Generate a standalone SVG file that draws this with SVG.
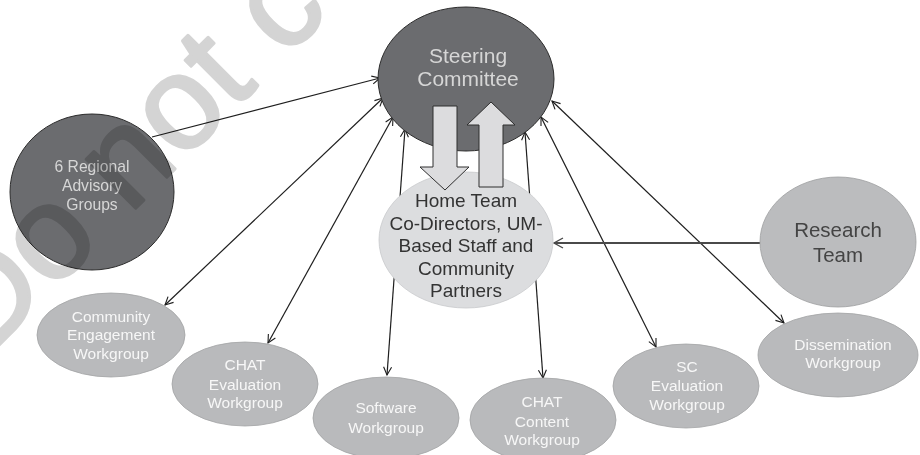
<svg xmlns="http://www.w3.org/2000/svg" width="920" height="455" viewBox="0 0 920 455">
  <style>
    text { font-family: "Liberation Sans", Arial, Helvetica, sans-serif; text-anchor: middle; }
    .dark { fill: #6b6c6f; stroke: #2b2b2b; stroke-width: 1; }
    .dark-txt { fill: #d6d6d6; }
    .home { fill: #dcdddf; stroke: #c8c9cb; stroke-width: 0.8; }
    .home-txt { fill: #333333; font-size: 19px; }
    .research { fill: #bbbcbe; stroke: #9d9ea0; stroke-width: 0.8; }
    .research-txt { fill: #444444; font-size: 20.5px; }
    .wg { fill: #b9babc; stroke: #a2a3a5; stroke-width: 0.8; }
    .wg-txt { fill: #f7f7f7; font-size: 15.5px; }
    .link { fill: none; stroke: #1e1e1e; stroke-width: 1.2; }
    .link-gray { fill: none; stroke: #4a4a4a; stroke-width: 1.8; }
    .block { fill: #dcdcde; stroke: #2e2e2e; stroke-width: 1; }
    .wm { fill: #d4d4d4; stroke: #d4d4d4; stroke-width: 3; stroke-linejoin: round; font-size: 132px; text-anchor: start; mix-blend-mode: multiply; }
  </style>
  <defs>
    <marker id="ah" markerUnits="userSpaceOnUse" markerWidth="10" markerHeight="10" refX="9" refY="5" orient="auto-start-reverse">
      <path d="M1,1 L9,5 L1,9" fill="none" stroke="#1e1e1e" stroke-width="1.1"/>
    </marker>
    <marker id="ah-gray" markerUnits="userSpaceOnUse" markerWidth="12" markerHeight="12" refX="10" refY="6" orient="auto">
      <path d="M1,1 L10,6 L1,11" fill="none" stroke="#4a4a4a" stroke-width="1.4"/>
    </marker>
  </defs>

  <!-- connectors -->
  <g id="connectors">
    <line class="link" x1="152" y1="137" x2="380" y2="78" marker-end="url(#ah)"/>
    <line class="link" x1="165" y1="305" x2="383" y2="98" marker-start="url(#ah)" marker-end="url(#ah)"/>
    <line class="link" x1="268" y1="343" x2="393" y2="117" marker-start="url(#ah)" marker-end="url(#ah)"/>
    <line class="link" x1="387" y1="375" x2="405" y2="129" marker-start="url(#ah)" marker-end="url(#ah)"/>
    <line class="link" x1="543" y1="378" x2="525" y2="132" marker-start="url(#ah)" marker-end="url(#ah)"/>
    <line class="link" x1="656" y1="347" x2="541" y2="117" marker-start="url(#ah)" marker-end="url(#ah)"/>
    <line class="link" x1="784" y1="323" x2="552" y2="101" marker-start="url(#ah)" marker-end="url(#ah)"/>
    <line class="link-gray" x1="760" y1="243" x2="554" y2="243" marker-end="url(#ah-gray)"/>
  </g>

  <g id="steering-committee">
    <ellipse class="dark" cx="466" cy="79" rx="88" ry="72"/>
    <text class="dark-txt" font-size="21" x="468" y="63">Steering</text>
    <text class="dark-txt" font-size="21" x="468" y="86">Committee</text>
  </g>

  <g id="regional-advisory">
    <ellipse class="dark" cx="92" cy="192" rx="82" ry="78"/>
    <text class="dark-txt" font-size="15.7" x="92" y="172">6 Regional</text>
    <text class="dark-txt" font-size="15.7" x="92" y="191">Advisory</text>
    <text class="dark-txt" font-size="15.7" x="92" y="210">Groups</text>
  </g>

  <g id="home-team">
    <ellipse class="home" cx="466" cy="240" rx="87" ry="68"/>
    <text class="home-txt" x="466" y="207">Home Team</text>
    <text class="home-txt" x="466" y="230">Co-Directors, UM-</text>
    <text class="home-txt" x="466" y="252">Based Staff and</text>
    <text class="home-txt" x="466" y="275">Community</text>
    <text class="home-txt" x="466" y="297">Partners</text>
  </g>

  <!-- two-way exchange between committee and home team -->
  <g id="exchange-arrows">
    <path class="block" d="M433,106 L457,106 L457,167 L469,167 L445,190 L420,167 L433,167 Z"/>
    <path class="block" d="M479,187 L503,187 L503,125 L515,125 L491,102 L467,125 L479,125 Z"/>
  </g>

  <g id="research-team">
    <ellipse class="research" cx="838" cy="242" rx="78" ry="65"/>
    <text class="research-txt" x="838" y="237">Research</text>
    <text class="research-txt" x="838" y="262">Team</text>
  </g>

  <g id="community-engagement">
    <ellipse class="wg" cx="111" cy="335" rx="74" ry="42"/>
    <text class="wg-txt" x="111" y="322">Community</text>
    <text class="wg-txt" x="111" y="340">Engagement</text>
    <text class="wg-txt" x="111" y="359">Workgroup</text>
  </g>

  <g id="chat-evaluation">
    <ellipse class="wg" cx="245" cy="384" rx="73" ry="42"/>
    <text class="wg-txt" x="245" y="370">CHAT</text>
    <text class="wg-txt" x="245" y="390">Evaluation</text>
    <text class="wg-txt" x="245" y="408">Workgroup</text>
  </g>

  <g id="software">
    <ellipse class="wg" cx="386" cy="418" rx="73" ry="41"/>
    <text class="wg-txt" x="386" y="413">Software</text>
    <text class="wg-txt" x="386" y="433">Workgroup</text>
  </g>

  <g id="chat-content">
    <ellipse class="wg" cx="543" cy="420" rx="73" ry="42"/>
    <text class="wg-txt" x="542" y="407">CHAT</text>
    <text class="wg-txt" x="542" y="427">Content</text>
    <text class="wg-txt" x="542" y="445">Workgroup</text>
  </g>

  <g id="sc-evaluation">
    <ellipse class="wg" cx="686" cy="386" rx="73" ry="42"/>
    <text class="wg-txt" x="687" y="372">SC</text>
    <text class="wg-txt" x="687" y="391">Evaluation</text>
    <text class="wg-txt" x="687" y="410">Workgroup</text>
  </g>

  <g id="dissemination">
    <ellipse class="wg" cx="838" cy="355" rx="80" ry="42"/>
    <text class="wg-txt" x="843" y="350">Dissemination</text>
    <text class="wg-txt" x="843" y="368">Workgroup</text>
  </g>

  <!-- diagonal notice printed across the sheet -->
  <text class="wm" transform="translate(-16,360) rotate(-45)" x="0" y="0">Do not copy</text>
</svg>
